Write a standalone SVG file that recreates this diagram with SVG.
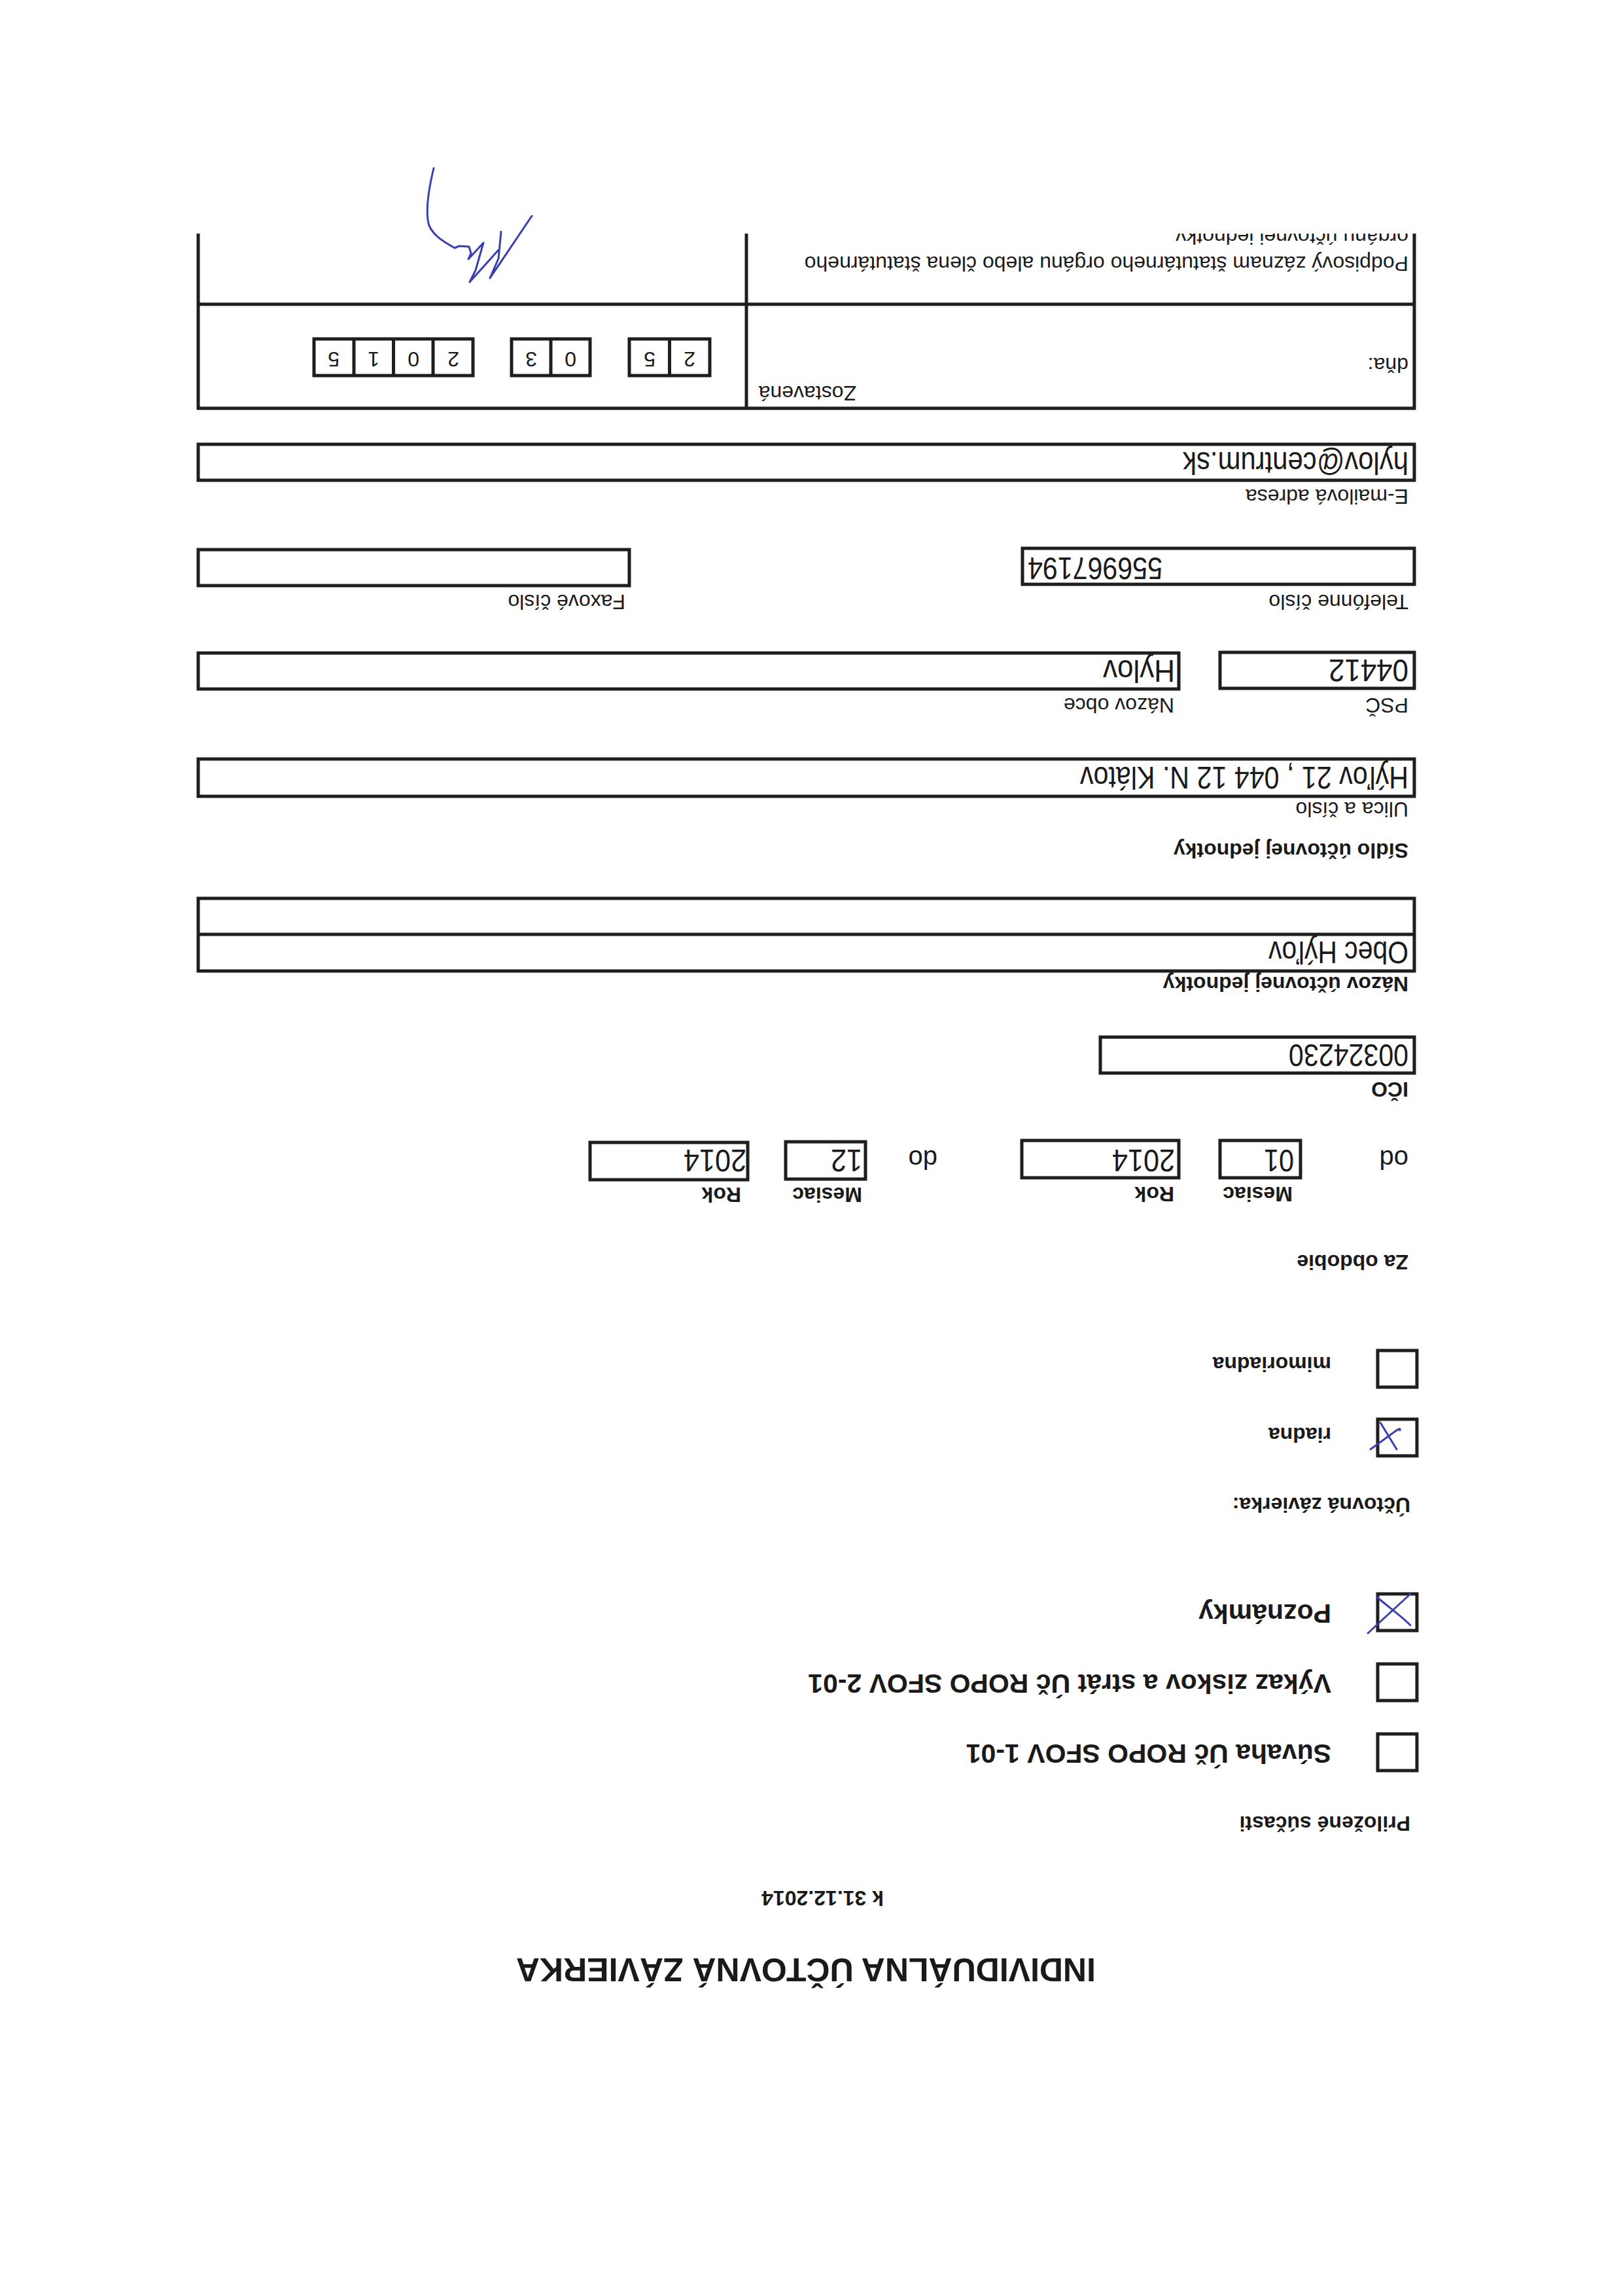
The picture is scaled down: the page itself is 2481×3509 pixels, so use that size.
<svg xmlns="http://www.w3.org/2000/svg" width="2481" height="3509" viewBox="0 0 2481 3509">
<style>
.box{fill:none;stroke:#1e1e1e;stroke-width:5}
.ln{stroke:#1e1e1e;stroke-width:5;fill:none}
.ink{fill:none;stroke:#3a40b0;stroke-width:3;stroke-linecap:round;stroke-linejoin:round}
text{font-family:"Liberation Sans",Arial,sans-serif;fill:#1a1a1a}
.l{font-size:32px}
.b{font-size:32px;font-weight:bold}
.v{font-size:48px}
.o{font-size:40px}
.bl{font-size:41px;font-weight:bold}
.t{font-size:50px;font-weight:bold}
.d{font-size:32px;text-anchor:middle}
</style>
<defs>
<clipPath id="cut"><rect x="0" y="0" width="2481" height="3152"/></clipPath>
</defs>
<rect width="2481" height="3509" fill="#ffffff"/>

<g id="title">
<g transform="rotate(180 1240.5 1754.5)">
<text class="t" x="806" y="516">INDIVIDUÁLNA ÚČTOVNÁ ZÁVIERKA</text>
<text class="b" x="1130" y="619">k 31.12.2014</text>
</g>
</g>

<g id="prilozene">
<g transform="rotate(180 1240.5 1754.5)">
<text class="b" x="325" y="733">Priložené súčasti</text>
</g>
</g>

<g id="suvaha">
<rect class="box" x="2106" y="2650" width="60" height="56"/>
<g transform="rotate(180 1240.5 1754.5)"><text class="bl" x="446" y="843">Súvaha Úč ROPO SFOV 1-01</text></g>
</g>

<g id="vykaz">
<rect class="box" x="2106" y="2543" width="60" height="56"/>
<g transform="rotate(180 1240.5 1754.5)"><text class="bl" x="446" y="950">Výkaz ziskov a strát Úč ROPO SFOV 2-01</text></g>
</g>

<g id="poznamky">
<rect class="box" x="2106" y="2436" width="60" height="56"/>
<path class="ink" d="M2091,2496 L2156,2436 M2105,2441 C2125,2458 2145,2472 2156,2484"/>
<g transform="rotate(180 1240.5 1754.5)"><text class="bl" x="446" y="1057">Poznámky</text></g>
</g>

<g id="zaverka">
<g transform="rotate(180 1240.5 1754.5)"><text class="b" x="325" y="1220">Účtovná závierka:</text></g>
</g>

<g id="riadna">
<rect class="box" x="2106" y="2169" width="60" height="56"/>
<path class="ink" d="M2110,2174 L2135,2215 M2095,2215 L2132,2188 C2138,2184 2141,2182 2140,2186"/>
<g transform="rotate(180 1240.5 1754.5)"><text class="b" x="446" y="1327">riadna</text></g>
</g>

<g id="mimoriadna">
<rect class="box" x="2106" y="2064" width="60" height="56"/>
<g transform="rotate(180 1240.5 1754.5)"><text class="b" x="446" y="1435">mimoriadna</text></g>
</g>

<g id="obdobie">
<rect class="box" x="1865" y="1743" width="123" height="57"/>
<rect class="box" x="1562" y="1743" width="240" height="57"/>
<rect class="box" x="1201" y="1745" width="122" height="57"/>
<rect class="box" x="902" y="1746" width="241" height="57"/>
<g transform="rotate(180 1240.5 1754.5)">
<text class="b" x="328" y="1591">Za obdobie</text>
<text class="o" x="328" y="1751">od</text>
<text class="v" x="503" y="1752" textLength="46" lengthAdjust="spacingAndGlyphs">01</text>
<text class="v" x="685" y="1752" textLength="96" lengthAdjust="spacingAndGlyphs">2014</text>
<text class="o" x="1048" y="1751">do</text>
<text class="v" x="1163" y="1752" textLength="48" lengthAdjust="spacingAndGlyphs">12</text>
<text class="v" x="1340" y="1752" textLength="96" lengthAdjust="spacingAndGlyphs">2014</text>
<text class="b" x="505" y="1695">Mesiac</text>
<text class="b" x="686" y="1695">Rok</text>
<text class="b" x="1163" y="1694">Mesiac</text>
<text class="b" x="1348" y="1694">Rok</text>
</g>
</g>

<g id="ico">
<rect class="box" x="1682" y="1585" width="480" height="55"/>
<g transform="rotate(180 1240.5 1754.5)">
<text class="b" x="328" y="1855">IČO</text>
<text class="v" x="328" y="1913" textLength="183" lengthAdjust="spacingAndGlyphs">00324230</text>
</g>
</g>

<g id="nazov">
<rect class="box" x="303" y="1373" width="1859" height="111"/>
<line class="ln" x1="303" y1="1428" x2="2162" y2="1428"/>
<g transform="rotate(180 1240.5 1754.5)">
<text class="b" x="328" y="2016">Názov účtovnej jednotky</text>
<text class="v" x="328" y="2070" textLength="214" lengthAdjust="spacingAndGlyphs">Obec Hýľov</text>
</g>
</g>

<g id="sidlo">
<g transform="rotate(180 1240.5 1754.5)"><text class="b" x="328" y="2220">Sídlo účtovnej jednotky</text></g>
</g>

<g id="ulica">
<rect class="box" x="303" y="1160" width="1859" height="57"/>
<g transform="rotate(180 1240.5 1754.5)">
<text class="l" x="328" y="2283">Ulica a číslo</text>
<text class="v" x="328" y="2337" textLength="502" lengthAdjust="spacingAndGlyphs">Hýľov 21 , 044 12 N. Klátov</text>
</g>
</g>

<g id="psc">
<rect class="box" x="1865" y="997" width="297" height="55"/>
<g transform="rotate(180 1240.5 1754.5)">
<text class="l" x="328" y="2442">PSČ</text>
<text class="v" x="328" y="2501" textLength="122" lengthAdjust="spacingAndGlyphs">04412</text>
</g>
</g>

<g id="obec">
<rect class="box" x="303" y="998" width="1499" height="55"/>
<g transform="rotate(180 1240.5 1754.5)">
<text class="l" x="686" y="2442">Názov obce</text>
<text class="v" x="685" y="2500" textLength="110" lengthAdjust="spacingAndGlyphs">Hylov</text>
</g>
</g>

<g id="telefon">
<rect class="box" x="1563" y="838" width="599" height="55"/>
<g transform="rotate(180 1240.5 1754.5)">
<text class="l" x="328" y="2600">Telefónne číslo</text>
<text class="v" x="704" y="2657" textLength="206" lengthAdjust="spacingAndGlyphs">556967194</text>
</g>
</g>

<g id="fax">
<rect class="box" x="303" y="840" width="659" height="55"/>
<g transform="rotate(180 1240.5 1754.5)"><text class="l" x="1525" y="2600">Faxové číslo</text></g>
</g>

<g id="email">
<rect class="box" x="303" y="679" width="1859" height="55"/>
<g transform="rotate(180 1240.5 1754.5)">
<text class="l" x="328" y="2761">E-mailová adresa</text>
<text class="v" x="328" y="2818" textLength="345" lengthAdjust="spacingAndGlyphs">hylov@centrum.sk</text>
</g>
</g>

<g id="zostavena">
<rect class="box" x="962" y="518" width="123" height="56"/>
<line class="ln" x1="1023.5" y1="518" x2="1023.5" y2="574"/>
<rect class="box" x="782" y="518" width="120" height="56"/>
<line class="ln" x1="842" y1="518" x2="842" y2="574"/>
<rect class="box" x="480" y="518" width="243" height="56"/>
<line class="ln" x1="541" y1="518" x2="541" y2="574"/>
<line class="ln" x1="601.5" y1="518" x2="601.5" y2="574"/>
<line class="ln" x1="662" y1="518" x2="662" y2="574"/>
<g transform="rotate(180 1240.5 1754.5)">
<text class="l" x="1172" y="2919">Zostavená</text>
<text class="l" x="328" y="2962">dňa:</text>
<text class="d" x="1427" y="2971">2</text>
<text class="d" x="1488" y="2971">5</text>
<text class="d" x="1609" y="2971">0</text>
<text class="d" x="1669" y="2971">3</text>
<text class="d" x="1788" y="2971">2</text>
<text class="d" x="1849" y="2971">0</text>
<text class="d" x="1910" y="2971">1</text>
<text class="d" x="1971" y="2971">5</text>
</g>
</g>

<g id="podpis">
<g transform="rotate(180 1240.5 1754.5)">
<text class="l" x="328" y="3117">Podpisový záznam štatutárneho orgánu alebo člena štatutárneho</text>
<text class="l" x="328" y="3158" clip-path="url(#cut)">orgánu účtovnej jednotky.</text>
</g>
<path class="ink" d="M663,257 C655,290 650,325 656,345 C664,362 680,370 695,379 L702,376 L717,377 L720,387 L716,396 L739,371 L727,413 L718,431 L762,382 M766,354 L762,395 L749,425 L813,330"/>
</g>

<g id="sig-table">
<line class="ln" x1="303" y1="357" x2="303" y2="626"/>
<line class="ln" x1="1141" y1="357" x2="1141" y2="626"/>
<line class="ln" x1="2162" y1="357" x2="2162" y2="626"/>
<line class="ln" x1="301" y1="465" x2="2164" y2="465"/>
<line class="ln" x1="301" y1="624" x2="2164" y2="624"/>
</g>

<g id="connectors"></g>
</svg>
